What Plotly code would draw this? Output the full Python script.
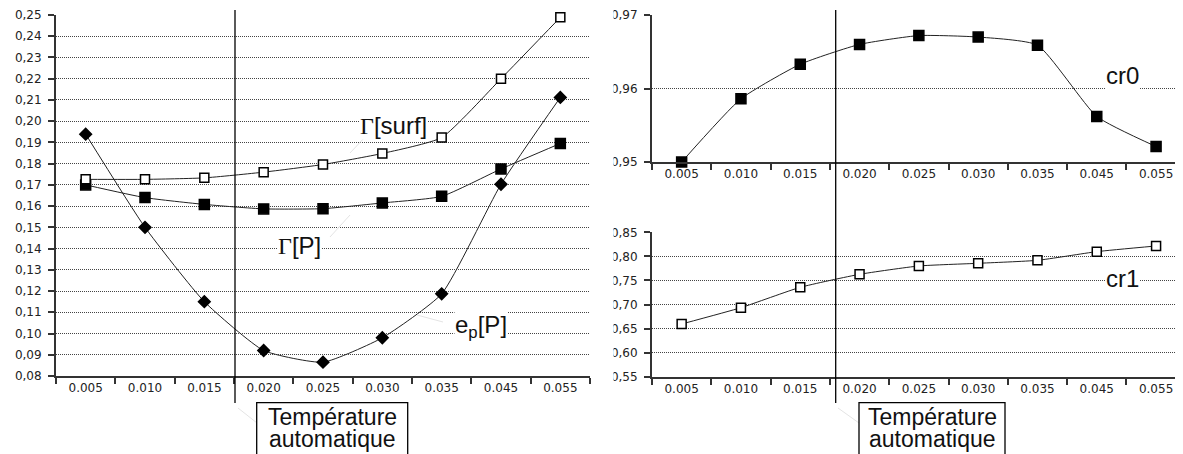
import plotly.graph_objects as go

# la page ajoute une marge de 8 px autour de la figure
OFF = 8
W, H = 1183 - OFF, 454 - OFF

# données
cats = ["0.005", "0.010", "0.015", "0.020", "0.025", "0.030", "0.035", "0.045", "0.055"]
gamma_surf = [0.1726, 0.1726, 0.1733, 0.1760, 0.1796, 0.1848, 0.1923, 0.2200, 0.2489]
gamma_p = [0.1700, 0.1640, 0.1608, 0.1587, 0.1588, 0.1615, 0.1646, 0.1775, 0.1895]
ep_p = [0.1939, 0.1500, 0.1150, 0.0920, 0.0865, 0.0980, 0.1187, 0.1703, 0.2112]
cr0 = [0.9500, 0.9586, 0.9633, 0.9660, 0.9672, 0.9670, 0.9659, 0.9562, 0.9521]
cr1 = [0.6595, 0.6934, 0.7357, 0.7627, 0.7800, 0.7856, 0.7918, 0.8098, 0.8216]

FONT = "Liberation Sans, Arial, sans-serif"
TICKFONT = "DejaVu Sans, Verdana, sans-serif"
AX = "#333333"
LINE = dict(color="#222222", width=1, shape="spline", smoothing=0.5)


def px(x):
    return (x - OFF) / W


def py(y):
    return 1 - (y - OFF) / H


def serie(x, y, xa, ya, symbol, size, fill):
    return go.Scatter(
        x=x, y=y, xaxis=xa, yaxis=ya, mode="lines+markers", line=LINE,
        cliponaxis=False, showlegend=False,
        marker=dict(symbol=symbol, size=size, color=fill,
                    line=dict(color="#000000", width=1.5)))


fig = go.Figure()
fig.add_trace(serie(cats, ep_p, "x", "y", "diamond", 9, "#000000"))
fig.add_trace(serie(cats, gamma_p, "x", "y", "square", 10, "#000000"))
fig.add_trace(serie(cats, gamma_surf, "x", "y", "square", 9, "#ffffff"))
fig.add_trace(serie(cats, cr0, "x2", "y2", "square", 10, "#000000"))
fig.add_trace(serie(cats, cr1, "x3", "y3", "square", 9, "#ffffff"))

xcommon = dict(type="category", showline=True, linecolor=AX, linewidth=2,
               ticks="outside", ticklen=6, tickwidth=2, tickcolor=AX,
               tickson="boundaries", showgrid=False, automargin=False,
               tickfont=dict(family=TICKFONT, size=12, color="#222222"))
ycommon = dict(showline=True, linecolor=AX, linewidth=2, ticks="outside",
               ticklen=6, tickwidth=2, tickcolor=AX, showgrid=True,
               gridcolor="#444444", griddash="1px,1px", gridwidth=1,
               zeroline=False, tickformat=".2f", automargin=False,
               ticklabelstandoff=4,
               tickfont=dict(family=TICKFONT, size=12, color="#222222"))

fig.update_layout(
    width=W, height=H, margin=dict(l=0, r=0, t=0, b=0, autoexpand=False),
    paper_bgcolor="white", plot_bgcolor="white", separators=",.",
    font=dict(family=FONT, color="#111111"),
    xaxis=dict(xcommon, domain=[px(56), px(590)], range=[-0.5, 8.5], anchor="y"),
    yaxis=dict(ycommon, domain=[py(376), py(15)], range=[0.08, 0.25], dtick=0.01,
               anchor="x"),
    xaxis2=dict(xcommon, domain=[px(652), 1], range=[-0.5, 8.454], anchor="y2"),
    yaxis2=dict(ycommon, domain=[py(162), py(15)], range=[0.95, 0.97], dtick=0.01,
                anchor="x2"),
    xaxis3=dict(xcommon, domain=[px(652), 1], range=[-0.5, 8.454], anchor="y3"),
    yaxis3=dict(ycommon, domain=[py(376.7), py(232.3)], range=[0.55, 0.85],
                dtick=0.05, anchor="x3"),
)

shapes = []
# lignes verticales "Température automatique"
for xv in (235, 835.7):
    shapes.append(dict(type="line", xref="paper", yref="paper",
                       x0=px(xv), x1=px(xv), y0=py(403), y1=py(10),
                       line=dict(color="#000000", width=1.3)))
# renvois discrets (gris clair)
for (a, b, c, d) in [(367, 135, 350, 153), (350, 215, 330, 237), (417, 315, 443, 322),
                     (238, 408, 257, 423), (838, 408, 859, 423)]:
    shapes.append(dict(type="line", xref="paper", yref="paper",
                       x0=px(a), y0=py(b), x1=px(c), y1=py(d),
                       line=dict(color="#e4e4e4", width=1)))
# cadres
for (x0, x1) in [(256.7, 407.7), (859, 1005)]:
    shapes.append(dict(type="rect", xref="paper", yref="paper",
                       x0=px(x0), x1=px(x1), y0=-0.2, y1=py(402.7),
                       fillcolor="white", line=dict(color="#000000", width=1.3)))
# masque : étiquettes de gauche du graphique droit coupées
shapes.append(dict(type="rect", xref="paper", yref="paper", layer="above",
                   x0=px(593), x1=px(613.5), y0=0, y1=1,
                   fillcolor="white", line=dict(width=0)))
fig.update_layout(shapes=shapes)

G = "<span style='font-family:Liberation Serif'>Γ</span>"
labels = [
    (G + "[surf]", "x", "y", 5.18, 0.198),
    (G + "[P]", "x", "y", 3.6, 0.1415),
    ("e<sub>p</sub>[P]", "x", "y", 6.66, 0.1035),
    ("cr0", "x2", "y2", 7.43, 0.9618),
    ("cr1", "x3", "y3", 7.43, 0.755),
]
for (t, xa, ya, xv, yv) in labels:
    fig.add_annotation(text=t, xref=xa, yref=ya, x=xv, y=yv, showarrow=False,
                       bgcolor="white", borderpad=0,
                       font=dict(family=FONT, size=24, color="#111111"))

for xc in ((256.7 + 407.7) / 2, (859 + 1005) / 2):
    for (t, yc) in (("Température", 417), ("automatique", 439)):
        fig.add_annotation(text=t, xref="paper", yref="paper", x=px(xc), y=py(yc),
                           xanchor="center", yanchor="middle", showarrow=False,
                           font=dict(family=FONT, size=23, color="#111111"))

fig.write_html("out.html")
